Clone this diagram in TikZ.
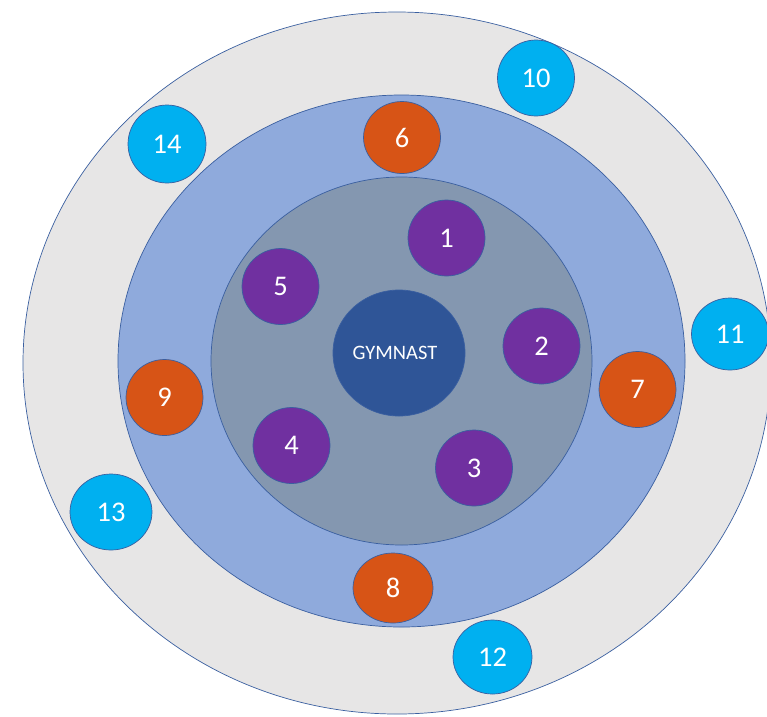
\documentclass[tikz,border=0pt]{standalone}
\usepackage{fontspec}
\setmainfont{Carlito}
\usetikzlibrary{shapes.geometric}

\definecolor{ringgray}{HTML}{E7E6E6}
\definecolor{ringblue}{HTML}{8FAADC}
\definecolor{ringslate}{HTML}{8497B0}
\definecolor{coreblue}{HTML}{2F5597}
\definecolor{edgeblue}{HTML}{3A5FA0}
\definecolor{innerpurple}{HTML}{7030A0}
\definecolor{midorange}{RGB}{215,84,22}
\definecolor{outercyan}{HTML}{00B0F0}

\begin{document}
\begin{tikzpicture}[
    x=1pt,y=-1pt,
    ring/.style={
        ellipse,draw=edgeblue,line width=0.7pt,inner sep=0pt
    },
    member/.style={
        ellipse,draw=edgeblue,line width=0.7pt,inner sep=0pt,
        minimum width=77pt,minimum height=76pt,
        text=white,font=\fontsize{28.5}{28.5}\selectfont
    },
    first/.style={member,fill=innerpurple},
    second/.style={member,fill=midorange},
    third/.style={member,fill=outercyan}
]
    \useasboundingbox (0,0) rectangle (767,716);

    % rings
    \node (outer) [ring,fill=ringgray,minimum width=748pt,minimum height=702pt]
        at (397,363) {};
    \node (middle) [ring,fill=ringblue,minimum width=567pt,minimum height=532pt]
        at (401.5,361) {};
    \node (inner) [ring,fill=ringslate,minimum width=381pt,minimum height=368pt]
        at (401.5,361) {};
    \node (gymnast) [ring,fill=coreblue,minimum width=132pt,minimum height=126pt,
        text=white,font=\fontsize{20.5}{20.5}\selectfont]
        at (399,353) {GYMNAST\hspace*{8pt}};

    % inner circle
    \node (one)   [first] at (446.5,238) {1};
    \node (two)   [first] at (541.5,346) {2};
    \node (three) [first] at (474,468) {3};
    \node (four)  [first] at (291.5,445.5) {4};
    \node (five)  [first] at (280.5,286.5) {5};

    % middle circle
    \node (six)   [second,minimum height=72pt] at (402,137.5) {6};
    \node (seven) [second] at (637.5,389.5) {7};
    \node (eight) [second,minimum width=80pt,minimum height=70pt] at (393,588) {8};
    \node (nine)  [second] at (164.5,397.5) {9};

    % outer circle
    \node (ten)      [third] at (536,78) {10};
    \node (eleven)   [third,minimum height=72pt] at (730,334) {11};
    \node (twelve)   [third,minimum width=79pt,minimum height=74pt] at (492.5,657) {12};
    \node (thirteen) [third,minimum width=82pt] at (111,512) {13};
    \node (fourteen) [third,minimum width=78pt,minimum height=78pt] at (167,144) {14};
\end{tikzpicture}
\end{document}
